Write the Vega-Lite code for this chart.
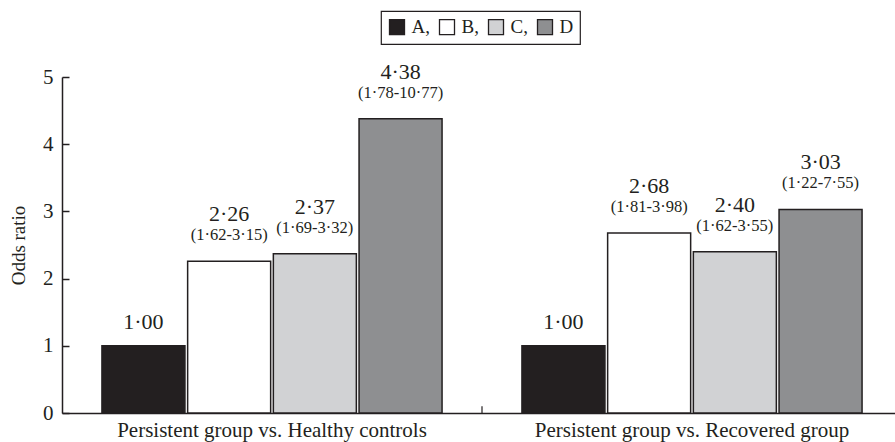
{
  "$schema": "https://vega.github.io/schema/vega-lite/v6.json",
  "autosize": {"type": "none"},
  "padding": {"left": 62, "top": 77, "right": 0, "bottom": 29},
  "width": 833,
  "height": 336,
  "background": "white",
  "config": {
    "view": {"stroke": null},
    "font": "Liberation Serif",
    "text": {"font": "Liberation Serif", "color": "#231f20"},
    "legend": {"strokeWidth": 1.2}
  },
  "data": {
    "values": [
      {"group": "Persistent group vs. Healthy controls", "cat": "A", "or": 1.00, "label": "1·00", "ci": ""},
      {"group": "Persistent group vs. Healthy controls", "cat": "B", "or": 2.26, "label": "2·26", "ci": "(1·62-3·15)"},
      {"group": "Persistent group vs. Healthy controls", "cat": "C", "or": 2.37, "label": "2·37", "ci": "(1·69-3·32)"},
      {"group": "Persistent group vs. Healthy controls", "cat": "D", "or": 4.38, "label": "4·38", "ci": "(1·78-10·77)"},
      {"group": "Persistent group vs. Recovered group", "cat": "A", "or": 1.00, "label": "1·00", "ci": ""},
      {"group": "Persistent group vs. Recovered group", "cat": "B", "or": 2.68, "label": "2·68", "ci": "(1·81-3·98)"},
      {"group": "Persistent group vs. Recovered group", "cat": "C", "or": 2.40, "label": "2·40", "ci": "(1·62-3·55)"},
      {"group": "Persistent group vs. Recovered group", "cat": "D", "or": 3.03, "label": "3·03", "ci": "(1·22-7·55)"}
    ]
  },
  "encoding": {
    "x": {
      "field": "group", "type": "nominal", "sort": null,
      "scale": {"range": [0, 840], "paddingInner": 0, "paddingOuter": 0},
      "axis": {
        "title": null, "ticks": false, "labelAngle": 0, "labelLimit": 0,
        "labelFont": "Liberation Serif", "labelFontSize": 21, "labelColor": "#231f20",
        "labelBaseline": "alphabetic", "labelPadding": 23,
        "domainColor": "#231f20", "domainWidth": 1.5
      }
    },
    "y": {
      "field": "or", "type": "quantitative",
      "scale": {"domain": [0, 5], "nice": false},
      "axis": {
        "title": "Odds ratio", "values": [0, 1, 2, 3, 4, 5], "format": "d", "grid": false,
        "titleFont": "Liberation Serif", "titleFontSize": 19, "titleFontWeight": "normal", "titleColor": "#231f20",
        "titlePadding": 14,
        "labelFont": "Liberation Serif", "labelFontSize": 21, "labelColor": "#231f20", "labelPadding": 16,
        "tickSize": -7, "tickColor": "#231f20", "tickWidth": 1.5,
        "domainColor": "#231f20", "domainWidth": 1.5
      }
    }
  },
  "layer": [
    {
      "mark": {"type": "bar", "stroke": "#231f20", "strokeWidth": 1.5},
      "encoding": {
        "xOffset": {"field": "cat", "type": "nominal", "scale": {"paddingInner": 0.0315, "paddingOuter": 0.466}},
        "fill": {
          "field": "cat", "type": "nominal",
          "scale": {"domain": ["A", "B", "C", "D"], "range": ["#231f20", "#ffffff", "#d1d2d4", "#8e8f91"]},
          "legend": {
            "title": null, "orient": "none", "legendX": 319, "legendY": -66,
            "direction": "horizontal", "padding": 6.5,
            "strokeColor": "#231f20",
            "symbolType": "square", "symbolSize": 225,
            "symbolStrokeColor": "#231f20", "symbolStrokeWidth": 1.3,
            "labelFont": "Liberation Serif", "labelFontSize": 19, "labelColor": "#231f20",
            "labelOffset": 5, "columnPadding": 6,
            "labelExpr": "datum.label == 'D' ? 'D' : datum.label + ','"
          }
        }
      }
    },
    {
      "transform": [{"filter": "datum.cat == 'A'"}],
      "mark": {"type": "text", "baseline": "alphabetic", "dy": -17, "fontSize": 22},
      "encoding": {
        "xOffset": {"field": "cat", "type": "nominal"},
        "text": {"field": "label"}
      }
    },
    {
      "transform": [{"filter": "datum.cat != 'A'"}],
      "mark": {"type": "text", "baseline": "alphabetic", "dy": -40, "fontSize": 22},
      "encoding": {
        "xOffset": {"field": "cat", "type": "nominal"},
        "text": {"field": "label"}
      }
    },
    {
      "transform": [{"filter": "datum.cat != 'A'"}],
      "mark": {"type": "text", "baseline": "alphabetic", "dy": -21, "fontSize": 16.5},
      "encoding": {
        "xOffset": {"field": "cat", "type": "nominal"},
        "text": {"field": "ci"}
      }
    },
    {
      "transform": [{"filter": "datum.cat == 'A' && datum.group == 'Persistent group vs. Recovered group'"}],
      "mark": {"type": "rule", "color": "#231f20", "strokeWidth": 1.2},
      "encoding": {
        "x": {"field": "group", "type": "nominal", "sort": null, "bandPosition": 0},
        "y": {"datum": 0},
        "y2": {"datum": 0.1}
      }
    }
  ]
}
